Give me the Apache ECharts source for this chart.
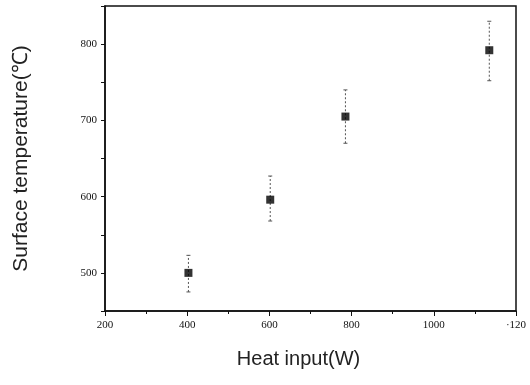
<!DOCTYPE html>
<html><head><meta charset="utf-8">
<script src="https://cdn.jsdelivr.net/npm/echarts@6/dist/echarts.min.js"></script>
<style>html,body{margin:0;padding:0;background:#fff}#c{width:530px;height:385px}</style>
</head><body><div id="c"></div>
<script>
const heatInput = [403, 602, 785, 1135];
const surfaceTemp = [500, 596, 705, 792];
const errLow = [475, 568, 670, 752];
const errHigh = [523, 627, 740, 830];
const xTickLabels = {200:'200',400:'400',600:'600',800:'800',1000:'1000',1200:'·120'};
const yTickLabels = {500:'500',600:'600',700:'700',800:'800'};

const chart = echarts.init(document.getElementById('c'));
const points = heatInput.map((x,i)=>[x, surfaceTemp[i]]);
const bars = heatInput.map((x,i)=>[x, errLow[i], errHigh[i]]);
chart.setOption({
  animation:false,
  grid:{left:105,right:14,top:6,bottom:74},
  xAxis:{type:'value',min:200,max:1200,interval:200,
    name:'Heat input(W)',nameLocation:'middle',nameGap:38,
    nameTextStyle:{fontFamily:'Liberation Sans, Arial, sans-serif',fontSize:20,color:'#222',padding:[0,24,0,0]},
    axisLine:{show:true,lineStyle:{color:'#111',width:1.5}},
    axisTick:{show:true,inside:false,length:5,lineStyle:{color:'#111'}},
    minorTick:{show:true,splitNumber:2,length:3,lineStyle:{color:'#111'}},
    splitLine:{show:false},
    axisLabel:{formatter:v=>xTickLabels[v]||'',fontFamily:'Liberation Serif, Times New Roman, serif',fontSize:11,color:'#111',margin:9}
  },
  yAxis:{type:'value',min:450,max:850,interval:50,
    name:'Surface temperature(℃)',nameLocation:'middle',nameGap:73,
    nameTextStyle:{fontFamily:'Liberation Sans, Arial, sans-serif',fontSize:21,color:'#222'},
    axisLine:{show:true,lineStyle:{color:'#111',width:1.5}},
    axisTick:{show:true,inside:false,length:4,lineStyle:{color:'#111'}},
    splitLine:{show:false},
    axisLabel:{formatter:v=>yTickLabels[v]||'',fontFamily:'Liberation Serif, Times New Roman, serif',fontSize:11,color:'#111',margin:8}
  },
  series:[
    {type:'custom',data:bars,
      renderItem:function(params,api){
        const lo=api.coord([api.value(0),api.value(1)]);
        const hi=api.coord([api.value(0),api.value(2)]);
        return {type:'group',children:[
          {type:'line',shape:{x1:lo[0],y1:lo[1],x2:hi[0],y2:hi[1]},style:{stroke:'#555',lineWidth:1,lineDash:[2,2]}},
          {type:'line',shape:{x1:lo[0]-2,y1:lo[1],x2:lo[0]+2,y2:lo[1]},style:{stroke:'#555',lineWidth:1}},
          {type:'line',shape:{x1:hi[0]-2,y1:hi[1],x2:hi[0]+2,y2:hi[1]},style:{stroke:'#555',lineWidth:1}}
        ]};
      },z:1},
    {type:'scatter',data:points,symbol:'rect',symbolSize:8,itemStyle:{color:'#000'},z:2}
  ]
});
const g = chart.getModel().getComponent('grid').coordinateSystem.getRect();
chart.setOption({graphic:[{type:'rect',shape:{x:g.x,y:g.y,width:g.width,height:g.height},style:{fill:'none',stroke:'#111',lineWidth:1.5},silent:true,z:0}]});
</script></body></html>
